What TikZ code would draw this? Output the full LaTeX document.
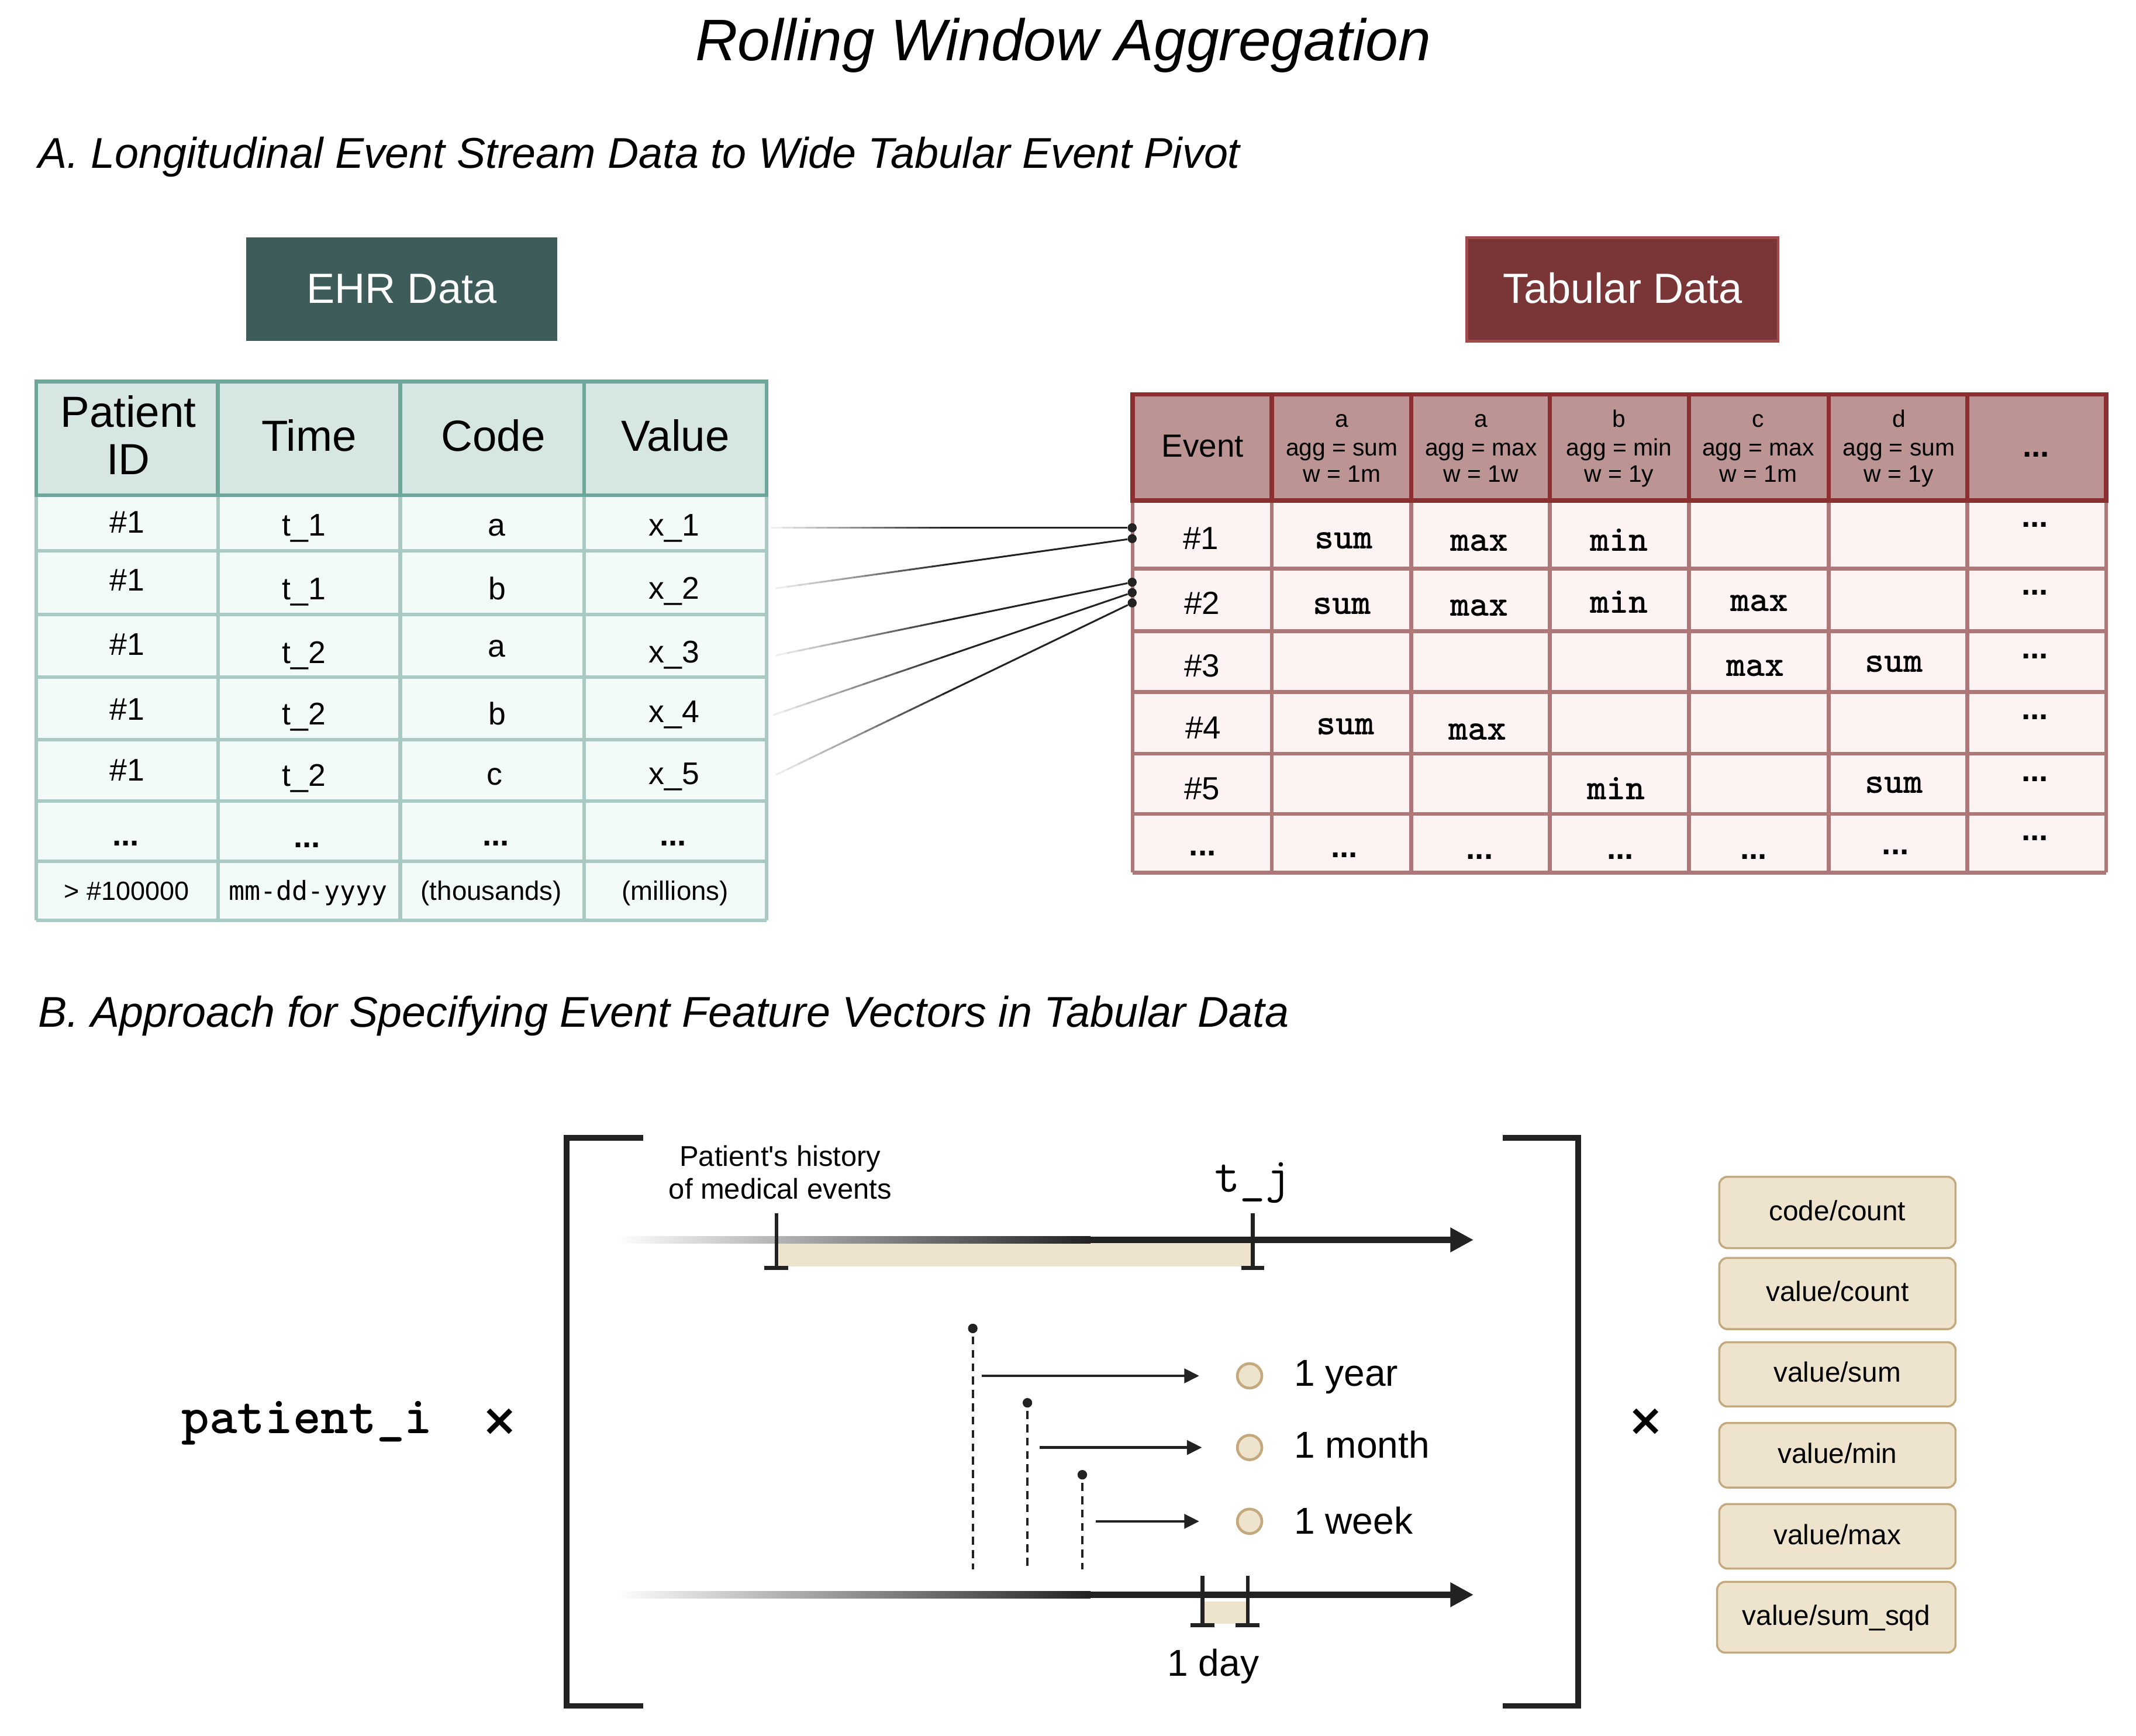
\documentclass[tikz,border=0pt]{standalone}
\usepackage{fontspec}
\setmainfont{Liberation Sans}
\newfontfamily\smonof{DejaVu Sans Mono}
\newfontfamily\symf{DejaVu Sans}
\usetikzlibrary{arrows.meta,calc}
\newcommand\fsz[1]{\fontsize{#1}{#1}\selectfont}
\newcommand\ddd{...}

\definecolor{ink}{HTML}{222222}
\definecolor{ehrbox}{HTML}{3E5C5A}
\definecolor{ehrhead}{HTML}{D6E6E2}
\definecolor{ehrdark}{HTML}{6DA69A}
\definecolor{ehrbody}{HTML}{F2FBF8}
\definecolor{ehrline}{HTML}{A9CAC3}
\definecolor{tabbox}{HTML}{7A3637}
\definecolor{tabboxline}{HTML}{A04A4C}
\definecolor{tabhead}{HTML}{BC9493}
\definecolor{tabdark}{HTML}{8C2F31}
\definecolor{tabbody}{HTML}{FDF3F2}
\definecolor{tabline}{HTML}{AE7778}
\definecolor{sand}{HTML}{EEE3CC}
\definecolor{sandline}{HTML}{C4A87E}

% connector whose tail fades in from the left
\newcommand\fadeconn[2]{%
  \foreach \k in {0,...,15}{%
    \pgfmathsetmacro\fa{\k*0.5/16}%
    \pgfmathsetmacro\fb{(\k+1)*0.5/16+0.002}%
    \pgfmathtruncatemacro\fc{8+\k*92/15}%
    \draw[line width=1.3pt, draw=ink!\fc!white] ($(#1)!\fa!(#2)$) -- ($(#1)!\fb!(#2)$);
  }%
  \draw[line width=1.3pt, draw=ink] ($(#1)!0.5!(#2)$) -- (#2);
}

\begin{document}
\begin{tikzpicture}[x=1pt,y=-1pt,
  cellt/.style={anchor=base, inner sep=0pt},
  cdot/.style={circle, fill=ink, inner sep=0pt, minimum size=6.6pt},
  pdot/.style={circle, fill=ink, inner sep=0pt, minimum size=7pt},
  legdot/.style={circle, fill=sand, draw=sandline, line width=2pt, inner sep=0pt, minimum size=18pt},
  featbox/.style={rounded corners=6pt, fill=sand, draw=sandline, line width=1.5pt, inner sep=0pt,
    minimum width=173.5pt, text height=11.6pt, text depth=0pt, font=\fsz{20.5}},
  headbox/.style={minimum width=228.5pt, minimum height=76pt, inner sep=0pt, text=white,
    text height=20pt, text depth=0pt, font=\fsz{31}},
  tline/.style={line width=4.8pt, draw=ink, -{Triangle[length=17pt,width=17pt]}},
  warrow/.style={line width=2pt, draw=ink, -{Triangle[length=11pt,width=10.5pt]}},
  tick/.style={line width=2.9pt, draw=ink},
  bracket/.style={line width=4.2pt, draw=ink, line join=miter},
  vdash/.style={line width=1.8pt, draw=ink, dash pattern=on 5.8pt off 4pt},
  aggt/.style={cellt, font=\ttfamily\bfseries\fsz{27}},
  dotst/.style={cellt, font=\bfseries\fsz{23.5}},
]
\useasboundingbox (0,0) rectangle (1568,1274);
\fill[white] (0,0) rectangle (1568,1274);

% ---------- headings ----------
\node[cellt, font=\fsz{43}\itshape] (title) at (780.5,44.4) {Rolling Window Aggregation};
\node[anchor=base west, inner sep=0pt, font=\fsz{31.6}\itshape] (secA) at (28,123.3)
  {A. Longitudinal Event Stream Data to Wide Tabular Event Pivot};
\node[anchor=base west, inner sep=0pt, font=\fsz{31.6}\itshape] (secB) at (28,754)
  {B. Approach for Specifying Event Feature Vectors in Tabular Data};

% ---------- EHR table ----------
\node[headbox, fill=ehrbox] (ehr) at (294.9,212.4) {EHR Data};

\fill[ehrbody] (26.6,363.5) rectangle (562.8,675.8);
\foreach \y in {404.3,451,497.1,542.9,587.9,632.4,675.8}
  \draw[ehrline, line width=2.6pt] (26.6,\y) -- (562.8,\y);
\foreach \x in {26.6,160,293.8,428.7,562.8}
  \draw[ehrline, line width=2.6pt] (\x,363.5) -- (\x,675.8);
\fill[ehrhead] (26.6,280) rectangle (562.8,363.5);
\foreach \x in {160,293.8,428.7}
  \draw[ehrdark, line width=2.8pt] (\x,280) -- (\x,363.5);
\draw[ehrdark, line width=2.8pt] (26.6,280) rectangle (562.8,363.5);

\node[cellt, font=\fsz{32}] (hpid1) at (94.2,313.4) {Patient};
\node[cellt, font=\fsz{32}] (hpid2) at (94.2,348.5) {ID};
\node[cellt, font=\fsz{32}] (htime) at (226.9,331.1) {Time};
\node[cellt, font=\fsz{32}] (hcode) at (362.2,331.1) {Code};
\node[cellt, font=\fsz{32}] (hval) at (495.9,331.1) {Value};

\foreach \x/\y/\t [count=\n] in {
  93.3/391.2/\#1, 223.2/393.6/t\_1, 364.6/393.6/a, 494.8/393.6/x\_1,
  93.3/433.6/\#1, 223.2/440.3/t\_1, 365/440.3/b, 494.8/439.7/x\_2,
  93.3/481.1/\#1, 223.2/487.1/t\_2, 364.6/482.1/a, 494.8/486.4/x\_3,
  93.3/528.8/\#1, 223.2/532.2/t\_2, 365/532.2/b, 494.8/530.5/x\_4,
  93.3/573.3/\#1, 223.2/577.3/t\_2, 363/576.3/c, 494.8/575.6/x\_5}
  \node[cellt, font=\fsz{23}] (ec\n) at (\x,\y) {\t};
\foreach \x/\y [count=\n] in {92.4/620.7, 225.4/622.3, 364/620.7, 494.1/620.7}
  \node[dotst] (edots\n) at (\x,\y) {\ddd};

\node[cellt, font=\fsz{19.3}] (elast1) at (92.8,660.7) {> \#100000};
\node[cellt, font=\smonof\fsz{19.3}] (elast2) at (226.2,660.7) {mm-dd-yyyy};
\node[cellt, font=\fsz{19.6}] (elast3) at (360.7,660.7) {(thousands)};
\node[cellt, font=\fsz{19.6}] (elast4) at (495.6,660.7) {(millions)};

% ---------- Tabular table ----------
\node[headbox, fill=tabbox, draw=tabboxline, line width=2pt] (tab) at (1191.1,212.5) {Tabular Data};

\fill[tabbody] (831.4,367.5) rectangle (1546,640.6);
\foreach \y in {417.5,463.3,508,553.2,597.5,640.6}
  \draw[tabline, line width=2.8pt] (831.4,\y) -- (1546,\y);
\foreach \x in {831.4,933.6,1035.9,1137.6,1239.8,1342.5,1444.2,1546}
  \draw[tabline, line width=2.8pt] (\x,367.5) -- (\x,640.6);
\fill[tabhead] (831.4,289.5) rectangle (1546,367.5);
\foreach \x in {933.6,1035.9,1137.6,1239.8,1342.5,1444.2}
  \draw[tabdark, line width=3.2pt] (\x,289.5) -- (\x,367.5);
\draw[tabdark, line width=3.2pt] (831.4,289.5) rectangle (1546,367.5);

\node[cellt, font=\fsz{23.5}] (hevent) at (882.8,335.4) {Event};
\node[dotst] (hmore) at (1494.6,335.4) {\ddd};
\foreach \x/\l/\ag/\w [count=\n] in {985/a/sum/1m, 1087.2/a/max/1w, 1188.5/b/min/1y,
    1290.7/c/max/1m, 1393.9/d/sum/1y}{
  \node[cellt, font=\fsz{17.5}] (th\n-code) at (\x,313.5) {\l};
  \node[cellt, font=\fsz{17.5}] (th\n-agg) at (\x,334.5) {agg = \ag};
  \node[cellt, font=\fsz{17.5}] (th\n-win) at (\x,354) {w = \w};
}

\foreach \x/\y/\t [count=\n] in {881.6/403.4/\#1, 882.3/450.8/\#2, 882.3/497/\#3,
    883.2/542.3/\#4, 882.3/586.9/\#5}
  \node[cellt, font=\fsz{23.5}] (ev\n) at (\x,\y) {\t};

\foreach \x/\y/\t [count=\n] in {
  986.4/402.8/sum, 1085.8/404.4/max, 1188.5/404.4/min,
  985.2/450.8/sum, 1085.8/452.4/max, 1188.7/450.2/min, 1291.4/448.6/max,
  1288.5/496.4/max, 1390.2/493.3/sum,
  987.6/539.2/sum, 1084.6/543.2/max,
  1186.5/586.9/min, 1390.2/582.2/sum}
  \node[aggt] (agg\n) at (\x,\y) {\t};

\foreach \x/\y [count=\n] in {882.8/628.1, 986.9/629.6, 1086.2/630.6, 1189.4/630.6, 1287.3/630.6,
    1391.4/627.5, 1493.7/386.9, 1493.7/436.8, 1493.7/483.6, 1493.7/528.2, 1493.7/573.5, 1493.7/617.2}
  \node[dotst] (more\n) at (\x,\y) {\ddd};

% ---------- rows feeding the pivot ----------
\coordinate (src1) at (566,387.4);
\coordinate (src2) at (569.5,431.9);
\coordinate (src3) at (569.5,481.1);
\coordinate (src4) at (567.6,524.9);
\coordinate (src5) at (569.5,568.8);
\node[cdot] (dst1) at (831.1,387.4) {};
\node[cdot] (dst2) at (831.1,395.4) {};
\node[cdot] (dst3) at (831.1,427.4) {};
\node[cdot] (dst4) at (831.1,435) {};
\node[cdot] (dst5) at (831.1,442.6) {};
\fadeconn{src1}{dst1}
\fadeconn{src2}{dst2}
\fadeconn{src3}{dst3}
\fadeconn{src4}{dst4}
\fadeconn{src5}{dst5}

% ---------- section B ----------
\node[anchor=base west, inner sep=0pt, font=\ttfamily\bfseries\fsz{39}] (pat) at (133,1052.4) {patient\_i};
\node[font=\symf\bfseries\fsz{32}, inner sep=0pt] (times1) at (367,1043.8) {×};
\node[font=\symf\bfseries\fsz{32}, inner sep=0pt] (times2) at (1208.3,1043.8) {×};

\draw[bracket] (472,835.3) -| (415.9,1252.3) -- (472,1252.3);
\draw[bracket] (1103,835.3) -| (1158.5,1252.3) -- (1103,1252.3);

% upper timeline: history window ending at t_j
\coordinate (ta0) at (452,910.2);
\coordinate (ta1) at (800,910.2);
\coordinate (ta2) at (1081.7,910.2);
\fill[sand] (571.6,912.6) rectangle (918.2,929.6);
\shade[left color=white, right color=ink] ($(ta0)+(0,-2.5)$) rectangle ($(ta1)+(0.5,2.5)$);
\draw[tline] (ta1) -- (ta2);
\draw[tick] (570,890.5) -- (570,930.9);
\draw[tick] (561.2,930.9) -- (578.7,930.9);
\draw[tick] (919.6,890.5) -- (919.6,930.9);
\draw[tick] (911.2,930.9) -- (928,930.9);
\node[cellt, font=\fsz{21}] (hist1) at (572.7,856.2) {Patient\textquotesingle s history};
\node[cellt, font=\fsz{21}] (hist2) at (572.7,880) {of medical events};
\node[cellt, font=\ttfamily\fsz{36}] (tj) at (919.6,875.1) {t\_j};

% window lengths
\node[pdot] (wy) at (714.1,975.2) {};
\node[pdot] (wm) at (754.2,1029.8) {};
\node[pdot] (ww) at (794.5,1082.6) {};
\draw[vdash] ($(wy)+(0,6)$) -- (714.1,1152.2);
\draw[vdash] ($(wm)+(0,6)$) -- (754.2,1152.2);
\draw[vdash] ($(ww)+(0,6)$) -- (794.5,1152.2);

\node[legdot] (cy) at (917.3,1010) {};
\node[legdot] (cm) at (917.3,1062.6) {};
\node[legdot] (cw) at (917.3,1116.8) {};
\coordinate (ay) at (720.8,1010);
\coordinate (am) at (763.3,1062.6);
\coordinate (aw) at (804.4,1116.8);
\draw[warrow] (ay) -- ($(cy.west)+(-27,0)$);
\draw[warrow] (am) -- ($(cm.west)+(-25,0)$);
\draw[warrow] (aw) -- ($(cw.west)+(-27,0)$);
\node[anchor=base west, inner sep=0pt, font=\fsz{27.5}] (ly) at (949.8,1017.3) {1 year};
\node[anchor=base west, inner sep=0pt, font=\fsz{27.5}] (lm) at (949.8,1070.4) {1 month};
\node[anchor=base west, inner sep=0pt, font=\fsz{27.5}] (lw) at (949.8,1126.1) {1 week};

% lower timeline: one-day bucket
\coordinate (tb0) at (452,1170.7);
\coordinate (tb1) at (800,1170.7);
\coordinate (tb2) at (1081.7,1170.7);
\fill[sand] (884.2,1175.7) rectangle (915,1192);
\shade[left color=white, right color=ink] ($(tb0)+(0,-2.5)$) rectangle ($(tb1)+(0.5,2.5)$);
\draw[tline] (tb1) -- (tb2);
\draw[tick] (882.8,1156.8) -- (882.8,1193.2);
\draw[tick] (873.9,1193.2) -- (891.4,1193.2);
\draw[tick] (916,1156.8) -- (916,1193.2);
\draw[tick] (907.1,1193.2) -- (924.6,1193.2);
\node[cellt, font=\fsz{27.5}] (lday) at (890.6,1230.5) {1 day};

% feature types
\node[featbox, minimum height=52.3pt] (f1) at (1348.8,890.05) {code/count};
\node[featbox, minimum height=52.3pt] (f2) at (1348.8,949.55) {value/count};
\node[featbox, minimum height=47.2pt] (f3) at (1348.8,1008.9) {value/sum};
\node[featbox, minimum height=47.4pt] (f4) at (1348.8,1068.3) {value/min};
\node[featbox, minimum height=47.4pt] (f5) at (1348.8,1127.8) {value/max};
\node[featbox, minimum height=52pt, minimum width=175pt] (f6) at (1348,1187.2) {value/sum\_sqd};
\end{tikzpicture}
\end{document}
